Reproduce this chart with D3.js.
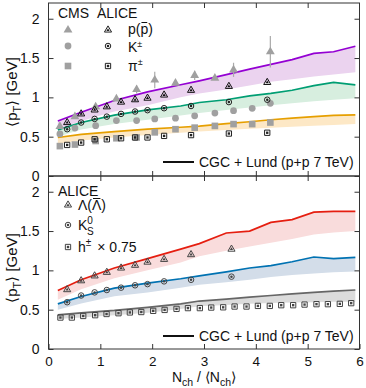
<!DOCTYPE html>
<html>
<head>
<meta charset="utf-8">
<script src="https://cdn.jsdelivr.net/npm/d3@7"></script>
<style>
  body { margin: 0; background: #fff; }
  svg text { font-family: "Liberation Sans", Arial, sans-serif; fill: #111; }
</style>
</head>
<body>
<svg id="chart" width="366" height="388"></svg>
<script>
// ---- data ----
const yTicks = [0, 0.5, 1, 1.5, 2];
const xTicks = [0, 1, 2, 3, 4, 5, 6];

// CGC + Lund model grid
const modelX = [0.18, 0.63, 1.27, 1.91, 2.55, 2.91, 3.43, 3.88, 4.29, 4.7, 5.12, 5.5, 5.92];
const protonHi = [0.70, 0.81, 0.96, 1.07, 1.16, 1.21, 1.29, 1.36, 1.42, 1.48, 1.56, 1.58, 1.65];
const protonLo = [0.59, 0.70, 0.82, 0.90, 1.00, 1.05, 1.10, 1.15, 1.20, 1.23, 1.265, 1.29, 1.32];
const kaonHi = [0.586, 0.68, 0.775, 0.84, 0.89, 0.935, 0.97, 1.02, 1.05, 1.09, 1.15, 1.19, 1.16];
const kaonLo = [0.50, 0.59, 0.66, 0.715, 0.77, 0.80, 0.84, 0.87, 0.90, 0.925, 0.95, 0.97, 0.99];
const pionHi = [0.49, 0.53, 0.565, 0.595, 0.62, 0.635, 0.665, 0.69, 0.715, 0.735, 0.755, 0.77, 0.777];
const pionLo = [0.41, 0.45, 0.49, 0.52, 0.55, 0.565, 0.585, 0.60, 0.615, 0.625, 0.64, 0.65, 0.66];
const lambdaHi = [0.745, 0.88, 1.03, 1.15, 1.27, 1.34, 1.475, 1.50, 1.61, 1.645, 1.74, 1.75, 1.75];
const lambdaLo = [0.625, 0.76, 0.90, 1.00, 1.10, 1.18, 1.25, 1.305, 1.35, 1.40, 1.455, 1.48, 1.50];
const k0sHi = [0.574, 0.667, 0.774, 0.838, 0.893, 0.93, 0.98, 1.03, 1.06, 1.11, 1.17, 1.15, 1.165];
const k0sLo = [0.50, 0.58, 0.67, 0.72, 0.78, 0.816, 0.85, 0.88, 0.915, 0.94, 0.96, 0.975, 0.986];
const hadronHi = [0.435, 0.46, 0.49, 0.53, 0.575, 0.61, 0.635, 0.66, 0.68, 0.70, 0.72, 0.735, 0.75];
const hadronLo = [0.38, 0.40, 0.43, 0.46, 0.51, 0.545, 0.56, 0.575, 0.585, 0.59, 0.595, 0.60, 0.60];

// CMS (gray, filled)
const cmsX = [0.22, 0.51, 0.91, 1.31, 1.70, 2.05, 2.45, 2.82, 3.21, 3.57, 3.93, 4.28];
const cmsProton = [0.63, 0.755, 0.88, 0.98, 1.10, 1.22, 1.18, 1.28, 1.245, 1.35, null, 1.58];
const cmsProtonErr = [0.02, 0.02, 0.03, 0.03, 0.05, 0.105, 0.03, 0.06, 0.03, 0.09, 0, 0.2];
const cmsKaon = [0.535, 0.61, 0.64, 0.705, 0.705, 0.725, 0.735, 0.765, 0.80, 0.83, 0.86, 0.925];
const cmsPion = [0.38, 0.40, 0.445, 0.48, 0.49, 0.555, 0.595, 0.615, 0.637, 0.66, 0.66, 0.68];

// ALICE
const aliceX = [0.36, 0.63, 0.89, 1.125, 1.40, 1.67, 1.91, 2.23, 2.75, 3.48, 4.22];
const aliceProton = [0.68, 0.79, 0.84, 0.88, 0.94, 0.97, 0.99, 1.03, 1.09, 1.14, 1.19];
const aliceKaon = [0.595, 0.68, 0.726, 0.755, 0.79, 0.82, 0.837, 0.862, 0.89, 0.94, 0.97];
const alicePion = [0.395, 0.425, 0.467, 0.467, 0.48, 0.49, 0.49, 0.51, 0.52, 0.54, 0.55];

const strangeX = [0.36, 0.63, 0.89, 1.125, 1.40, 1.67, 1.91, 2.23, 2.75, 3.53];
const aliceLambda = [0.755, 0.868, 0.93, 0.975, 1.03, 1.065, 1.105, 1.14, 1.20, 1.27];
const aliceK0s = [0.595, 0.68, 0.72, 0.75, 0.78, 0.81, 0.825, 0.86, 0.88, 0.92];

const hadronX = [0.23, 0.45, 0.67, 0.90, 1.12, 1.35, 1.57, 1.79, 2.02, 2.24, 2.47, 2.69, 2.92,
                 3.14, 3.37, 3.59, 3.82, 4.04, 4.27, 4.49, 4.72, 4.94, 5.17, 5.39, 5.62, 5.84];
const aliceHadron = [0.40, 0.40, 0.42, 0.43, 0.445, 0.455, 0.465, 0.47, 0.485, 0.497, 0.51, 0.52, 0.52,
                     0.527, 0.53, 0.54, 0.54, 0.548, 0.548, 0.557, 0.557, 0.565, 0.57, 0.57, 0.574, 0.583];

// ---- layout ----
const svg = d3.select('#chart');
const left = 48.5, right = 359.5;
const x = d3.scaleLinear().domain([0, 6]).range([left, right]);
const yTop = d3.scaleLinear().domain([0, 2.2]).range([176, 3]);
const yBot = d3.scaleLinear().domain([0, 2.2]).range([349, 176]);

const frame = "#333";
const fontFam = '"Liberation Sans", Arial, sans-serif';

function drawModel(g, y, hi, lo, color, bandColor) {
    const pts = modelX.map((d, i) => ({x: d, hi: hi[i], lo: lo[i]}));
    g.append('path').datum(pts)
        .attr('fill', bandColor)
        .attr('d', d3.area().x(d => x(d.x)).y0(d => y(d.lo)).y1(d => y(d.hi)));
    g.append('path').datum(pts)
        .attr('fill', 'none').attr('stroke', color).attr('stroke-width', 1.7)
        .attr('d', d3.line().x(d => x(d.x)).y(d => y(d.hi)));
}

const sym = (type, size) => d3.symbol().type(type).size(size)();

// gray filled CMS markers
function drawCms(g, y, xs, vals, type, size, errs) {
    const pts = xs.map((d, i) => ({x: d, v: vals[i], e: errs ? errs[i] : 0}))
        .filter(d => d.v != null);
    if (errs) {
        g.selectAll(null).data(pts.filter(d => d.e > 0.04)).enter().append('line')
            .attr('x1', d => x(d.x)).attr('x2', d => x(d.x))
            .attr('y1', d => y(d.v - d.e)).attr('y2', d => y(d.v + d.e))
            .attr('stroke', '#aaa').attr('stroke-width', 1.2);
    }
    g.selectAll(null).data(pts).enter().append('path')
        .attr('transform', d => `translate(${x(d.x)},${y(d.v)})`)
        .attr('d', sym(type, size))
        .attr('fill', '#a0a0a0');
}

// open ALICE markers with a dot inside
function aliceMarker(g, type, size, stroke) {
    g.append('path').attr('d', sym(type, size))
        .attr('fill', 'none').attr('stroke', stroke).attr('stroke-width', 1);
    g.append('path').attr('d', sym(type, size * 0.2))
        .attr('fill', stroke);
}
function drawAlice(g, y, xs, vals, type, size, stroke) {
    const pts = xs.map((d, i) => ({x: d, v: vals[i]}));
    g.selectAll(null).data(pts).enter().append('g')
        .attr('transform', d => `translate(${x(d.x)},${y(d.v)})`)
        .each(function () { aliceMarker(d3.select(this), type, size, stroke); });
}

function styleAxis(a) {
    a.select('.domain').remove();
    a.selectAll('line').attr('stroke', frame);
    a.selectAll('text').attr('font-size', 14).attr('fill', '#111').style('font-family', fontFam);
}

function drawFrame(y, yTopPx, yBotPx, xLabels) {
    const g = svg.append('g');
    g.append('rect').attr('x', left).attr('y', yTopPx)
        .attr('width', right - left).attr('height', yBotPx - yTopPx)
        .attr('fill', 'none').attr('stroke', frame).attr('stroke-width', 1);
    styleAxis(g.append('g').attr('transform', `translate(${left},0)`)
        .call(d3.axisLeft(y).tickValues(yTicks).tickSizeInner(-5).tickSizeOuter(0).tickPadding(9).tickFormat(d3.format(''))));
    styleAxis(g.append('g').attr('transform', `translate(${right},0)`)
        .call(d3.axisRight(y).tickValues(yTicks).tickSizeInner(-5).tickSizeOuter(0).tickFormat('')));
    const bottomAxis = d3.axisBottom(x).tickSizeInner(-5).tickSizeOuter(0).tickPadding(7);
    if (xLabels) bottomAxis.tickValues(xTicks).tickFormat(d3.format(''));
    else bottomAxis.tickValues(xTicks.slice(1, -1)).tickFormat('');
    const bAx = g.append('g').attr('transform', `translate(0,${yBotPx})`).call(bottomAxis);
    styleAxis(bAx);
    bAx.selectAll('text').attr('font-size', 13.5);
    styleAxis(g.append('g').attr('transform', `translate(0,${yTopPx})`)
        .call(d3.axisTop(x).tickValues(xTicks.slice(1, -1)).tickSizeInner(-5).tickSizeOuter(0).tickFormat('')));
    return g;
}

// ---- top panel ----
const topPanel = svg.append('g');
drawModel(topPanel, yTop, protonHi, protonLo, '#9400d3', '#ebd3ef');
drawModel(topPanel, yTop, kaonHi, kaonLo, '#009e73', '#d7eedf');
drawModel(topPanel, yTop, pionHi, pionLo, '#e69f00', '#fde8c6');

drawCms(topPanel, yTop, cmsX, cmsProton, d3.symbolTriangle, 34, cmsProtonErr);
drawCms(topPanel, yTop, cmsX, cmsKaon, d3.symbolCircle, 36);
drawCms(topPanel, yTop, cmsX, cmsPion, d3.symbolSquare, 44);
drawAlice(topPanel, yTop, aliceX, aliceProton, d3.symbolTriangle, 22, '#111');
drawAlice(topPanel, yTop, aliceX, aliceKaon, d3.symbolCircle, 24, '#222');
drawAlice(topPanel, yTop, aliceX, alicePion, d3.symbolSquare, 28, '#222');

// ---- bottom panel ----
const botPanel = svg.append('g');
drawModel(botPanel, yBot, lambdaHi, lambdaLo, '#e51e10', '#f9dcdc');
drawModel(botPanel, yBot, k0sHi, k0sLo, '#0072b2', '#d3dde9');
drawModel(botPanel, yBot, hadronHi, hadronLo, '#666666', '#dcdcdc');

drawAlice(botPanel, yBot, strangeX, aliceLambda, d3.symbolTriangle, 22, '#444');
drawAlice(botPanel, yBot, strangeX, aliceK0s, d3.symbolCircle, 24, '#444');
drawAlice(botPanel, yBot, hadronX, aliceHadron, d3.symbolSquare, 28, '#444');

drawFrame(yTop, 3, 176, false);
drawFrame(yBot, 176, 349, true);

// ---- legends ----
const leg = svg.append('g').attr('font-size', 14);
leg.append('text').attr('x', 58).attr('y', 18).text('CMS');
leg.append('text').attr('x', 97).attr('y', 18).text('ALICE');

// bar over one character of a text, drawn as a short line
function overbar(t, charIndex) {
    const box = t.node().getExtentOfChar(charIndex);
    leg.append('line')
        .attr('x1', box.x + 1).attr('x2', box.x + box.width - 1)
        .attr('y1', box.y + 1.5).attr('y2', box.y + 1.5)
        .attr('stroke', '#111').attr('stroke-width', 1);
}

function legendRow(yPx, textY, cmsType, cmsSize, aliceType, aliceSize, label) {
    leg.append('path').attr('transform', `translate(68,${yPx})`)
        .attr('d', sym(cmsType, cmsSize)).attr('fill', '#a0a0a0');
    aliceMarker(leg.append('g').attr('transform', `translate(108,${yPx})`), aliceType, aliceSize, '#222');
    const t = leg.append('text').attr('x', 128).attr('y', textY);
    label(t);
}
legendRow(30, 34, d3.symbolTriangle, 34, d3.symbolTriangle, 22, t => {
    t.text('p(p)');
    overbar(t, 2);
});
legendRow(46, 52, d3.symbolCircle, 36, d3.symbolCircle, 24, t => {
    t.append('tspan').text('K');
    t.append('tspan').attr('font-size', 9).attr('dy', -5).text('\u00b1');
});
legendRow(66, 71, d3.symbolSquare, 44, d3.symbolSquare, 28, t => {
    t.append('tspan').text('\u03c0');
    t.append('tspan').attr('font-size', 9).attr('dy', -6).text('\u00b1');
});

leg.append('text').attr('x', 58).attr('y', 196).text('ALICE');
function legendRow2(yPx, type, size, label) {
    aliceMarker(leg.append('g').attr('transform', `translate(68,${yPx})`), type, size, '#444');
    const t = leg.append('text').attr('x', 78).attr('y', yPx + 5);
    label(t);
}
legendRow2(205, d3.symbolTriangle, 22, t => {
    t.text('\u039b(\u039b)');
    overbar(t, 2);
});
legendRow2(225, d3.symbolCircle, 24, t => {
    t.append('tspan').text('K');
    t.append('tspan').attr('font-size', 10).attr('dy', -6).text('0');
    t.append('tspan').attr('font-size', 10).attr('dx', -6).attr('dy', 11).text('S');
});
legendRow2(247, d3.symbolSquare, 28, t => {
    t.append('tspan').text('h');
    t.append('tspan').attr('font-size', 10).attr('dy', -6).text('\u00b1');
    t.append('tspan').attr('dx', 6).attr('dy', 6).text('\u00d7 0.75');
});

function modelLegend(yPx) {
    leg.append('line').attr('x1', 163).attr('x2', 194).attr('y1', yPx).attr('y2', yPx)
        .attr('stroke', '#111').attr('stroke-width', 2);
    leg.append('text').attr('x', 199).attr('y', yPx + 5).text('CGC + Lund (p+p 7 TeV)');
}
modelLegend(162);
modelLegend(336);

// ---- axis titles ----
function yTitle(cy) {
    const t = svg.append('text').attr('font-size', 15).attr('text-anchor', 'middle')
        .attr('transform', `translate(17,${cy}) rotate(-90)`);
    t.append('tspan').text('\u27e8p');
    t.append('tspan').attr('font-size', 11).attr('dy', 4).text('T');
    t.append('tspan').attr('dy', -4).text('\u27e9 [GeV]');
}
yTitle(92);
yTitle(268);

const xt = svg.append('text').attr('font-size', 14).attr('text-anchor', 'middle')
    .attr('x', 204).attr('y', 382);
xt.append('tspan').text('N');
xt.append('tspan').attr('font-size', 10.5).attr('dy', 4).text('ch');
xt.append('tspan').attr('dy', -4).text(' / \u27e8N');
xt.append('tspan').attr('font-size', 10.5).attr('dy', 4).text('ch');
xt.append('tspan').attr('dy', -4).text('\u27e9');
</script>
</body>
</html>
